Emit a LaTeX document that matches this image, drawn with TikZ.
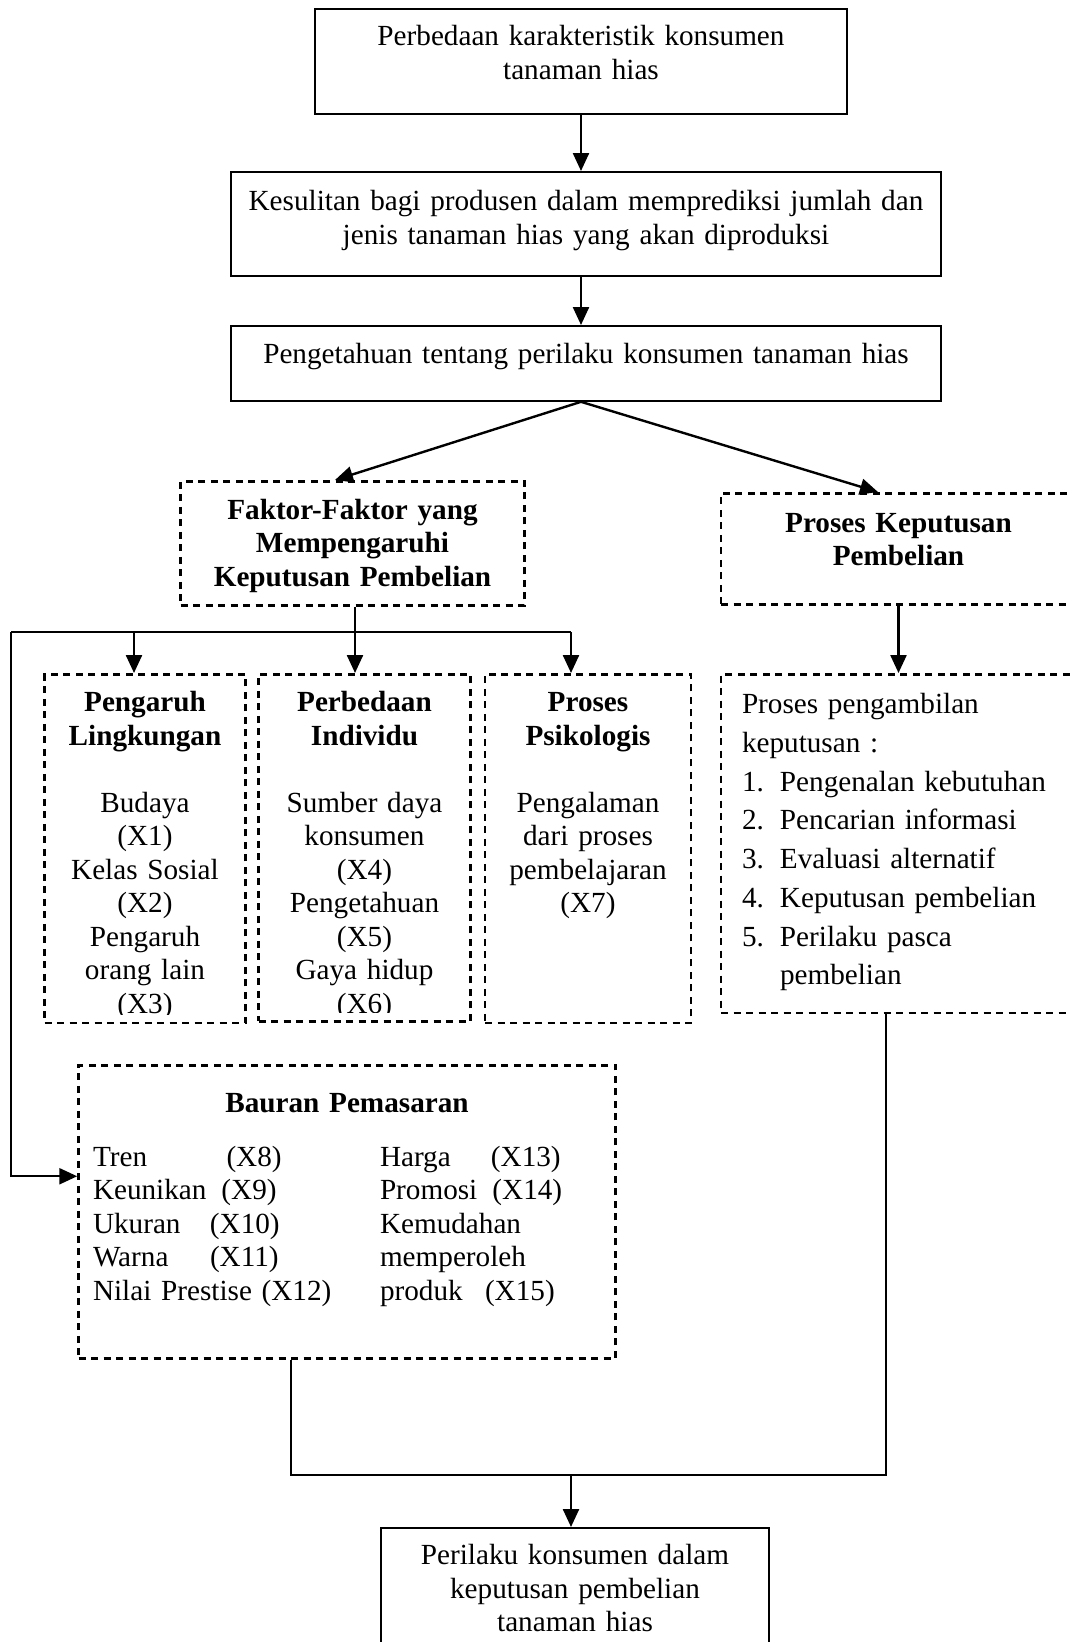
\documentclass[tikz,border=0pt]{standalone}
\usepackage{fontspec}
\setmainfont{Liberation Serif}
\usetikzlibrary{arrows.meta}
\newcommand{\txtsize}{\fontsize{29.2pt}{33.5pt}\selectfont}
\newcommand{\listsize}{\fontsize{29.2pt}{38.7pt}\selectfont}

\begin{document}
\begin{tikzpicture}[x=1pt,y=-1pt,
    box/.style={draw, line width=1.8pt, inner sep=0pt, align=center, anchor=north, font=\txtsize},
    dbox/.style={box, line width=2.5pt, dash pattern=on 7pt off 5.5pt},
    isi/.style={inner sep=0pt, align=center, anchor=north, font=\txtsize, text height=38.5pt},
    arr/.style={line width=2.4pt, -{Triangle[length=18pt,width=16pt]}},
    conn/.style={line width=2.4pt}]
    \useasboundingbox (0,0) rectangle (1071,1642);
    %% top chain
    \node[box, text width=532pt, text height=37pt, text depth=68pt] (karakter) at (581,8)
        {Perbedaan karakteristik konsumen\\tanaman hias};
    \node[box, text width=710pt, text height=39pt, text depth=65pt] (kesulitan) at (586,171)
        {Kesulitan bagi produsen dalam memprediksi jumlah dan\\jenis tanaman hias yang akan diproduksi};
    \node[box, text width=710pt, text height=38pt, text depth=37pt] (pengetahuan) at (586,325)
        {Pengetahuan tentang perilaku konsumen tanaman hias};
    \node[dbox, text width=344pt, text height=38pt, text depth=86pt, font=\txtsize\bfseries] (faktor) at (352.5,480)
        {Faktor-Faktor yang\\Mempengaruhi\\Keputusan Pembelian};
    \node[dbox, text width=355pt, text height=39pt, text depth=72pt, font=\txtsize\bfseries] (keputusan) at (898.5,492)
        {Proses Keputusan\\Pembelian};
    %% three factor boxes (text runs past the bottom)
    \node[dbox, minimum width=201pt, minimum height=348.5pt] (lingkungan) at (145,673) {};
    \node[dbox, minimum width=212pt, minimum height=347pt] (individu) at (364.5,673) {};
    \node[dbox, minimum width=206pt, minimum height=348.5pt] (psikologis) at (588,673) {};
    \begin{scope}
        \clip (lingkungan.north west) rectangle ([yshift=10pt]lingkungan.south east);
        \node[isi, text width=191pt] (lingkungan-t) at (lingkungan.north)
            {\textbf{Pengaruh}\\\textbf{Lingkungan}\\[33.5pt]Budaya\\(X1)\\Kelas Sosial\\(X2)\\Pengaruh\\orang lain\\(X3)};
    \end{scope}
    \begin{scope}
        \clip (individu.north west) rectangle ([yshift=10pt]individu.south east);
        \node[isi, text width=202pt] (individu-t) at (individu.north)
            {\textbf{Perbedaan}\\\textbf{Individu}\\[33.5pt]Sumber daya\\konsumen\\(X4)\\Pengetahuan\\(X5)\\Gaya hidup\\(X6)};
    \end{scope}
    \node[isi, text width=196pt] (psikologis-t) at (psikologis.north)
        {\textbf{Proses}\\\textbf{Psikologis}\\[33.5pt]Pengalaman\\dari proses\\pembelajaran\\(X7)};
    \node[dbox, align=left, inner xsep=21pt, text width=313pt, text height=39.6pt, text depth=299pt, font=\listsize] (pengambilan) at (898.5,673)
        {Proses pengambilan\\keputusan :\\
         \makebox[38pt][l]{1.}Pengenalan kebutuhan\\
         \makebox[38pt][l]{2.}Pencarian informasi\\
         \makebox[38pt][l]{3.}Evaluasi alternatif\\
         \makebox[38pt][l]{4.}Keputusan pembelian\\
         \makebox[38pt][l]{5.}Perilaku pasca\\
         \hspace*{38pt}pembelian};
    %% marketing mix
    \node[dbox, inner xsep=14.5pt, text width=508pt, text height=47.6pt, text depth=245.4pt] (bauran) at (347,1064)
        {\begin{tabular}[t]{@{}p{287pt}@{}p{221pt}@{}}
         \multicolumn{2}{c}{\textbf{Bauran Pemasaran}}\\[20pt]
         \makebox[133.5pt][l]{Tren}(X8) & \makebox[111pt][l]{Harga}(X13)\\
         \makebox[128.5pt][l]{Keunikan}(X9) & \makebox[112.5pt][l]{Promosi}(X14)\\
         \makebox[117pt][l]{Ukuran}(X10) & Kemudahan\\
         \makebox[117pt][l]{Warna}(X11) & memperoleh\\
         Nilai Prestise (X12) & \makebox[105pt][l]{produk}(X15)
         \end{tabular}};
    \node[box, text width=388pt, text height=37pt, text depth=96pt] (perilaku) at (575,1527)
        {Perilaku konsumen dalam\\keputusan pembelian\\tanaman hias};
    %% connectors
    \coordinate (kiri) at (11,632);
    \coordinate (kanan) at (571,632);
    \coordinate (gabung) at (571,1475);
    \draw[arr] (karakter.south) -- (karakter.south |- kesulitan.north);
    \draw[arr] ([xshift=-5pt]kesulitan.south) -- ([xshift=-5pt]pengetahuan.north);
    \draw[arr] ([xshift=-5pt]pengetahuan.south) -- ([xshift=-17.5pt]faktor.north);
    \draw[arr] ([xshift=-5pt]pengetahuan.south) -- ([xshift=-20.5pt]keputusan.north);
    \draw[conn] ([xshift=2.5pt]faktor.south) -- ([xshift=2.5pt]faktor.south |- kiri);
    \draw[conn] (kiri) -- (kanan);
    \draw[arr] ([xshift=-11pt]lingkungan.north |- kiri) -- ([xshift=-11pt]lingkungan.north);
    \draw[arr] ([xshift=-9.5pt]individu.north |- kiri) -- ([xshift=-9.5pt]individu.north);
    \draw[arr] (kanan) -- (kanan |- psikologis.north);
    \draw[arr] (kiri) |- ([yshift=35.5pt]bauran.west);
    \draw[arr] (keputusan.south) -- (keputusan.south |- pengambilan.north);
    \draw[conn] ([xshift=-56pt]bauran.south) |- (gabung) -| ([xshift=-12.5pt]pengambilan.south);
    \draw[arr] (gabung) -- (gabung |- perilaku.north);
\end{tikzpicture}
\end{document}
